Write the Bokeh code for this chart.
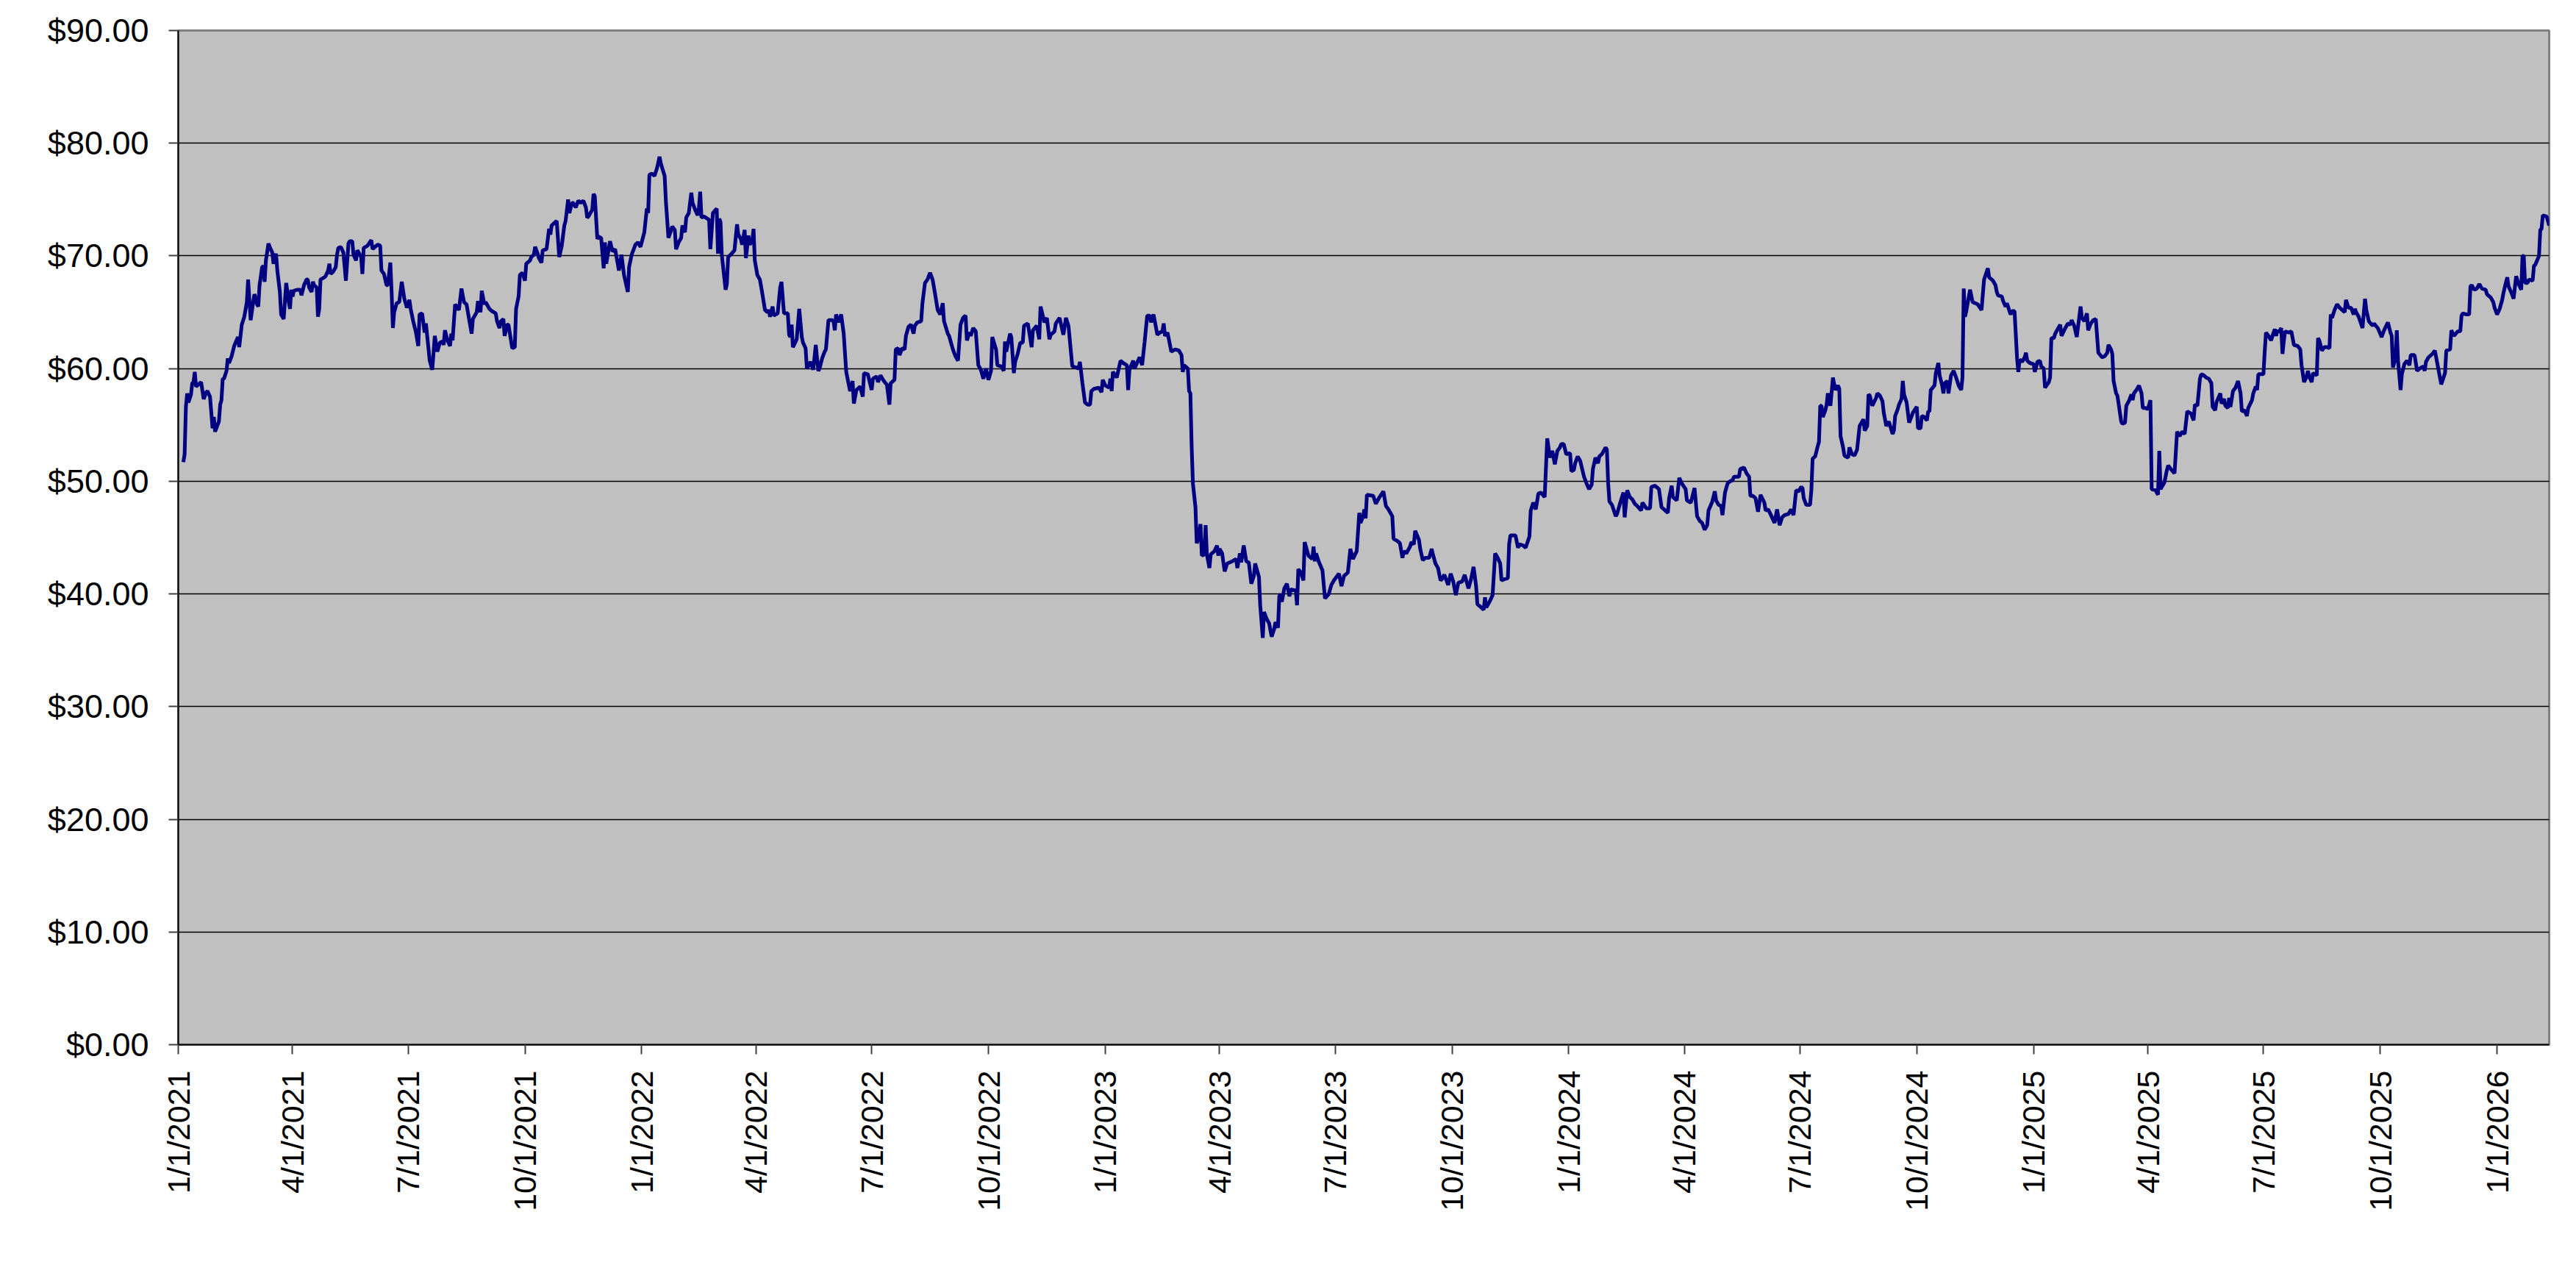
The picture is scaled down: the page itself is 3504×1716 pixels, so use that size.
import math
import pandas as pd
from bokeh.plotting import figure
from bokeh.models import ColumnDataSource, Range1d, FixedTicker, CustomJSTickFormatter, NumeralTickFormatter
from bokeh.embed import file_html
from bokeh.resources import INLINE

start_date = "2021-01-01"
end_date = "2026-02-11"

# days since 2021-01-01 and closing price
day_offset = [
    4, 5, 6, 7, 8, 10, 11, 12, 13, 14, 16, 18, 20, 22, 23, 25, 27, 28, 29, 32, 33, 34, 35, 36, 38, 39, 40, 42, 44, 47,
    48, 50, 52, 54, 55, 57, 59, 60, 61, 62, 63, 64, 65, 66, 67, 68, 69, 71, 72, 74, 75, 77, 78, 80, 81, 83, 85, 87, 88, 89,
    90, 91, 94, 96, 97, 99, 101, 102, 103, 105, 106, 107, 109, 110, 111, 112, 115, 116, 118, 119, 120, 122, 124, 125, 126, 128, 130, 132, 134, 135,
    137, 138, 140, 141, 144, 145, 146, 149, 152, 153, 157, 159, 160, 162, 164, 165, 167, 168, 169, 170, 172, 174, 176, 178, 180, 182, 183, 185, 187, 189,
    190, 192, 194, 195, 197, 198, 200, 202, 204, 206, 208, 209, 210, 212, 214, 215, 216, 218, 221, 223, 225, 227, 229, 231, 232, 235, 236, 238, 239, 241,
    242, 245, 247, 250, 251, 253, 254, 256, 257, 259, 260, 263, 265, 266, 268, 269, 271, 273, 274, 277, 278, 280, 281, 283, 284, 286, 287, 290, 292, 293,
    294, 297, 298, 300, 302, 303, 304, 305, 307, 308, 310, 311, 313, 315, 317, 319, 321, 322,
    323, 326, 327, 328, 330, 331, 333, 335, 336, 337, 340, 342, 344, 347, 349, 351, 354, 355, 357, 360, 362, 364, 367, 369, 370, 371, 373, 375, 377, 379,
    380, 383, 384, 386, 389, 391, 392, 394, 396, 397, 399, 400, 402, 404, 405, 407, 409, 410, 411, 412, 414, 418, 419, 421, 424, 425, 426, 427, 428, 431,
    432, 433, 435, 438, 440, 441, 443, 444, 446, 447, 449, 450, 452, 453, 454, 456, 458, 460, 462, 464, 465, 466, 468, 469, 472, 474, 475, 477, 480, 481,
    482, 483, 484, 487, 489, 491, 492, 494, 495, 498, 500, 502, 504, 505, 507, 509, 510, 512, 515, 516, 517, 518, 520, 522, 524, 526, 529, 531, 532, 534,
    537, 539, 540, 543, 546, 547, 550, 551, 553, 555, 557, 558, 560, 561, 564, 565, 567, 568, 570, 572, 573, 575, 577, 579, 580, 582, 585, 586, 588, 590,
    592, 594, 596, 598, 600, 602, 603, 606, 607, 610, 612, 614, 616, 618, 620, 621, 623, 624, 626, 628, 630, 632, 634, 636, 638, 640, 641,
    644, 645, 648, 650, 651, 652, 655, 656, 658, 659, 661, 663, 665, 666, 669, 672, 673, 676, 678, 679, 681, 682, 684, 686, 687, 690, 691, 694, 697, 699,
    701, 704, 707, 709, 710, 712, 714, 716, 718, 719, 721, 725, 727, 728, 730, 733, 734, 735, 736, 739, 742, 744, 747, 748, 749, 752, 753, 757, 759, 761,
    763, 765, 766, 768, 771, 773, 775, 776, 777, 779, 782, 785, 788, 790, 791, 792, 795, 796, 797, 798, 799, 801, 802, 803, 805, 806, 808, 809, 810, 812,
    813, 816, 818, 819, 820, 822, 824, 826, 830, 833, 834, 836, 837, 839, 841, 843, 845, 847, 848, 851, 852, 854, 855, 857, 859, 861, 863, 864, 866, 867,
    868, 869, 871, 873, 875, 876, 880, 881, 882, 884, 886, 887, 890, 893, 894, 895, 896, 898, 901, 903, 906, 908, 910, 914, 916, 918, 921, 923, 925, 928,
    930, 931, 933, 934, 935, 936, 941, 943, 946, 949, 951, 953, 956, 957, 960,
    962, 964, 965, 967, 970, 971, 973, 974, 977, 978, 980, 982, 985, 987, 988, 990, 992, 994, 995, 997, 1000, 1002, 1004, 1006, 1008, 1011, 1013, 1016, 1018, 1020,
    1022, 1023, 1025, 1028, 1029, 1030, 1033, 1035, 1037, 1039, 1041, 1042, 1044, 1047, 1048, 1049, 1051, 1053, 1055, 1056, 1059, 1061, 1064, 1065, 1067, 1069, 1071, 1073, 1076, 1078,
    1079, 1080, 1082, 1084, 1086, 1088, 1089, 1091, 1093, 1096, 1097, 1099, 1100, 1102, 1104, 1107, 1109, 1111, 1113, 1114, 1116, 1118, 1119, 1121, 1124, 1125, 1126, 1127, 1129, 1132,
    1133, 1135, 1138, 1139, 1141, 1143, 1145, 1147, 1149, 1152, 1153, 1156, 1159, 1160, 1163, 1166, 1168, 1170, 1173, 1174, 1176, 1177, 1180, 1182, 1184, 1187, 1188, 1191, 1192, 1194,
    1196, 1198, 1200, 1202, 1204, 1205, 1208, 1210, 1211, 1213, 1215, 1216, 1218, 1220, 1222, 1224, 1225, 1229, 1230, 1233, 1235, 1237, 1238, 1240, 1242, 1244, 1246, 1249, 1250, 1252,
    1255, 1257, 1259, 1261, 1263, 1265, 1268, 1270, 1272, 1274, 1276, 1278,
    1279, 1280, 1282, 1285, 1286, 1287, 1289, 1291, 1292, 1293, 1294, 1295, 1297, 1298, 1299, 1301, 1303, 1304, 1305, 1307, 1308, 1309, 1311, 1312, 1313, 1315, 1316, 1318, 1320, 1322,
    1324, 1326, 1327, 1328, 1330, 1331, 1332, 1334, 1337, 1338, 1340, 1342, 1343, 1345, 1347, 1350, 1351, 1352, 1354, 1355, 1357, 1358, 1359, 1361, 1363, 1365, 1366, 1369, 1370, 1372,
    1373, 1375, 1377, 1378, 1379, 1380, 1383, 1384, 1386, 1387, 1389, 1390, 1391, 1393, 1394, 1396, 1398, 1400, 1402, 1404, 1405, 1406, 1407, 1408, 1411, 1413, 1415, 1417, 1420, 1422,
    1425, 1426, 1429, 1431, 1432, 1433, 1436, 1437, 1439, 1440, 1442, 1443, 1444, 1446, 1448, 1449, 1450, 1452, 1454, 1455, 1456, 1458, 1461, 1462, 1464, 1466, 1467, 1469, 1470, 1473,
    1474, 1475, 1477, 1478, 1480, 1482, 1483, 1486, 1488, 1490, 1491, 1493, 1495, 1498, 1499, 1501, 1503, 1504, 1506, 1508, 1510, 1512, 1515, 1517, 1519, 1520, 1522, 1523, 1524, 1526,
    1527, 1530, 1531, 1533, 1534, 1536, 1538, 1539, 1540, 1542, 1544, 1546, 1547, 1549, 1551, 1553, 1554, 1557, 1559, 1560, 1561, 1564, 1566, 1567, 1569, 1572, 1574, 1576, 1578, 1580,
    1582, 1585, 1587, 1588, 1590, 1592, 1593,
    1595, 1597, 1599, 1601, 1602, 1604, 1605, 1608, 1609, 1611, 1612, 1614, 1615, 1616, 1618, 1620, 1622, 1624, 1625, 1627, 1629, 1630, 1633, 1634, 1636, 1637, 1638, 1642, 1643, 1644,
    1646, 1648, 1650, 1651, 1652, 1653, 1654, 1656, 1657, 1658, 1659, 1662, 1664, 1666, 1669, 1671, 1672, 1674, 1676, 1677, 1678, 1680, 1681, 1684, 1685, 1686, 1688, 1690, 1692, 1694,
    1695, 1696, 1698, 1700, 1702, 1706, 1707, 1709, 1711, 1713, 1714, 1715, 1717, 1720, 1722, 1723, 1725, 1728, 1729, 1732, 1734, 1735, 1737, 1740, 1742, 1743, 1744, 1746, 1747, 1748,
    1750, 1751, 1753, 1755, 1757, 1758, 1761, 1763, 1765, 1768, 1769, 1770, 1772, 1775, 1777, 1779, 1782, 1785, 1786, 1789, 1790, 1792, 1795, 1797, 1798, 1799, 1802, 1804, 1805, 1806,
    1808, 1810, 1812, 1814, 1817, 1818, 1821, 1823, 1824, 1826, 1828, 1830, 1831, 1832, 1834, 1835, 1837, 1839, 1841, 1843, 1845, 1846, 1847, 1848, 1850, 1851, 1854, 1855, 1856, 1859,
    1860, 1861, 1862, 1865, 1867,
]

price = [
    51.7, 52.4, 56.6, 57.8, 57.0, 57.7, 58.7, 58.8, 59.7, 58.4, 58.6, 58.8, 57.3, 57.9, 58.0, 57.5, 54.7, 55.7, 54.4, 55.3, 56.8, 57.2, 59.1, 59.1, 59.8, 60.9, 60.5, 61.1, 62.0, 62.8,
    61.9, 63.9, 64.6, 65.9, 67.9, 64.3, 65.9, 66.6, 66.2, 65.7, 65.5, 67.4, 68.2, 69.0, 69.1, 67.7, 69.6, 71.1, 70.8, 70.3, 69.3, 70.2, 68.7, 66.8, 64.8, 64.4, 67.6, 65.9, 65.3, 67.0,
    66.4, 66.9, 67.0, 67.0, 66.5, 67.4, 67.9, 67.9, 67.2, 66.8, 67.7, 67.4, 67.2, 64.6, 65.3, 67.9, 68.1, 68.2, 68.7, 69.3, 68.4, 68.6, 69.0, 70.1, 70.7, 70.8, 70.3, 67.8, 71.1, 71.3,
    71.3, 70.1, 69.6, 70.5, 69.9, 68.4, 70.7, 70.9, 71.4, 70.6, 71.0, 70.9, 68.7, 68.4, 67.4, 67.4, 69.4, 66.8, 63.6, 65.0, 65.8, 65.9, 67.7, 66.2, 65.4, 66.1, 65.3, 64.2, 63.3, 62.0,
    64.8, 64.9, 63.2, 64.0, 61.8, 60.7, 59.9, 62.9, 61.5, 62.3, 62.4, 62.1, 63.4, 62.5, 62.0, 63.1, 62.5, 65.7, 65.2, 67.1, 65.9, 65.7, 64.4, 63.1, 64.4, 65.0, 66.0, 65.0, 66.9, 65.7,
    65.9, 65.3, 65.1, 64.9, 64.2, 63.6, 64.2, 64.4, 62.9, 63.9, 63.9, 61.8, 61.9, 65.3, 66.4, 68.3, 68.5, 67.8, 69.3, 69.6, 69.9, 70.1, 70.8, 70.2, 69.8, 69.4, 70.5, 70.6, 72.4, 71.9,
    72.7, 73.0, 73.1, 69.9, 70.9, 71.8, 72.7, 73.1, 75.0, 73.8, 74.7, 74.7, 74.3, 74.9, 74.7, 74.9, 74.3, 73.4,
    73.5, 74.1, 75.5, 75.3, 71.5, 71.7, 71.6, 68.9, 71.2, 69.3, 71.3, 70.4, 70.6, 68.7, 70.1, 68.3, 66.8, 69.0, 70.1, 71.0, 71.2, 70.8, 72.1, 74.2, 73.8, 77.2, 77.3, 77.1, 77.8, 78.8,
    78.2, 77.1, 74.8, 71.6, 72.6, 72.3, 70.6, 71.2, 71.6, 72.7, 72.1, 73.4, 73.8, 75.6, 74.7, 74.1, 73.6, 74.3, 75.7, 73.4, 73.5, 73.2, 70.6, 73.8, 74.2, 70.2, 73.3, 73.0, 70.1, 67.0,
    67.5, 69.9, 70.1, 70.5, 72.8, 71.9, 71.5, 71.0, 72.3, 69.8, 71.8, 71.0, 71.3, 72.4, 69.6, 68.3, 67.9, 66.6, 65.2, 65.0, 65.2, 64.6, 65.5, 64.7, 64.9, 67.2, 67.7, 64.9, 64.9, 63.0,
    62.8, 63.9, 61.9, 62.6, 65.3, 62.8, 62.3, 61.8, 60.0, 60.6, 59.9, 62.1, 59.8, 60.0, 60.9, 61.5, 61.7, 64.3, 64.3, 64.2, 63.4, 64.8, 64.1, 64.8, 63.1, 59.7, 58.0, 58.9, 56.9, 58.1,
    58.4, 57.5, 59.6, 59.5, 58.1, 59.1, 59.3, 58.8, 59.4, 59.0, 58.7, 58.6, 56.8, 58.7, 59.0, 61.7, 61.8, 61.2, 61.8, 61.7, 62.9, 63.7, 63.9, 63.1, 63.8, 64.1, 64.2, 65.8, 67.6, 67.9,
    68.5, 67.9, 66.6, 65.2, 64.8, 65.8, 64.2, 63.1, 62.9, 61.7, 61.1, 60.7, 63.9, 64.5, 64.7, 62.5, 63.2, 62.9, 63.6, 63.3, 60.3, 59.9, 59.1, 60.0, 59.0, 59.8, 62.8,
    61.7, 60.3, 60.2, 59.8, 62.4, 61.5, 63.1, 62.8, 59.6, 60.6, 61.3, 62.3, 62.3, 63.8, 64.0, 61.9, 63.4, 63.8, 62.6, 65.5, 64.6, 64.1, 64.5, 62.6, 63.0, 63.3, 64.0, 64.5, 63.0, 64.5,
    63.8, 60.2, 60.1, 60.0, 60.6, 58.7, 57.0, 56.8, 56.8, 58.0, 58.2, 58.3, 57.9, 59.0, 58.5, 58.3, 59.1, 58.0, 59.7, 59.2, 60.7, 60.5, 60.3, 58.1, 59.9, 60.7, 60.0, 61.0, 60.3, 62.4,
    64.7, 64.7, 64.1, 64.8, 63.0, 63.2, 63.3, 64.0, 62.9, 63.2, 61.5, 61.7, 61.6, 61.2, 59.7, 60.3, 60.0, 58.0, 57.8, 53.1, 49.8, 47.7, 44.5, 44.8, 46.2, 43.4, 43.5, 46.1, 43.5, 42.3,
    43.5, 43.8, 44.3, 43.4, 44.0, 43.6, 42.0, 42.7, 42.9, 43.1, 42.3, 43.6, 42.8, 44.3, 42.9, 42.8, 40.9, 41.6, 42.7, 41.5, 39.0, 36.1, 38.4, 37.8, 37.4, 36.2, 36.9, 37.5, 37.0, 39.8,
    40.0, 39.3, 40.5, 40.9, 39.8, 40.4, 40.3, 39.0, 42.2, 41.9, 41.2, 44.6, 43.4, 43.1, 44.2, 42.9, 43.6, 42.9, 42.1, 39.6, 40.0, 40.8, 41.2, 41.8, 40.7, 41.6, 41.9, 44.0, 43.1, 43.8,
    47.2, 46.3, 46.9, 47.5, 46.7, 48.8, 48.7, 48.0, 48.6, 49.1, 47.8, 47.5, 46.9, 44.9, 44.7,
    44.5, 43.2, 43.8, 43.6, 44.2, 44.6, 44.4, 45.6, 44.8, 44.0, 43.0, 43.2, 43.2, 44.0, 43.5, 42.7, 42.3, 41.2, 41.3, 41.7, 40.8, 41.8, 41.1, 39.9, 41.0, 41.1, 41.7, 40.5, 41.3, 42.4,
    40.7, 39.1, 38.9, 38.6, 39.7, 38.8, 39.4, 39.9, 43.6, 43.2, 42.7, 41.2, 41.3, 41.4, 44.4, 45.2, 45.2, 45.2, 44.1, 44.4, 44.3, 44.1, 45.1, 47.4, 48.1, 47.5, 48.9, 49.0, 48.6, 53.8,
    53.0, 52.1, 52.7, 51.5, 52.7, 53.0, 53.3, 53.3, 52.4, 52.5, 50.9, 51.0, 51.6, 52.2, 51.8, 50.4, 49.8, 49.3, 49.7, 51.1, 52.1, 51.6, 52.2, 52.4, 53.0, 52.8, 49.8, 48.2, 47.9, 46.9,
    47.1, 47.9, 49.0, 46.8, 49.2, 48.6, 48.4, 48.0, 47.8, 47.4, 48.1, 47.6, 47.6, 49.5, 49.6, 49.3, 47.7, 47.5, 47.2, 48.5, 49.6, 48.6, 48.3, 50.3, 49.8, 49.3, 48.3, 48.1, 48.5, 49.4,
    46.9, 46.5, 46.3, 45.7, 46.1, 47.4, 48.2, 49.1, 48.3, 47.9, 47.8, 47.0, 49.0, 49.8, 50.0, 50.1, 50.4, 50.4, 51.1, 51.2, 50.7, 50.4, 48.7, 48.7, 48.5, 47.3, 48.8, 48.1, 47.4, 47.5,
    46.8, 46.3, 47.5, 46.1, 46.8, 47.0, 47.1, 47.5, 47.0, 49.2, 49.1, 49.5,
    49.4, 48.5, 47.9, 47.9, 49.2, 52.0, 52.2, 53.1, 53.5, 56.7, 56.7, 55.7, 56.3, 56.8, 57.8, 56.7, 59.2, 58.6, 58.1, 58.5, 58.2, 54.0, 53.0, 52.3, 52.2, 52.1, 53.0, 52.4, 52.3, 52.8,
    54.9, 55.3, 55.5, 54.5, 54.9, 57.7, 57.6, 56.7, 57.4, 57.8, 57.6, 57.1, 56.1, 54.9, 55.3, 54.2, 54.5, 55.8, 56.4, 56.8, 57.3, 58.9, 57.7, 57.0, 55.2, 55.8, 56.1, 56.6, 54.7, 54.7,
    55.8, 55.7, 55.4, 56.2, 56.2, 58.1, 58.5, 59.6, 60.5, 59.4, 58.5, 57.8, 58.7, 58.9, 57.8, 59.4, 59.8, 59.2, 58.5, 58.1, 59.2, 67.1, 64.6, 65.1, 67.0, 65.9, 65.8, 65.7, 65.2, 67.9,
    68.9, 68.1, 67.8, 67.4, 66.8, 66.5, 66.4, 66.0, 65.5, 65.8, 65.1, 64.8, 65.1, 65.1, 60.9, 59.7, 60.8, 60.6, 61.0, 61.4, 60.7, 60.5, 60.4, 59.7, 60.6, 60.7, 60.2, 60.0, 58.3, 58.8,
    59.2, 62.7, 62.7, 63.1, 63.5, 63.9, 62.9, 63.6, 64.0, 63.9, 64.3, 63.8, 62.8, 65.5, 64.5, 64.2, 64.9, 63.4, 64.0, 64.3, 64.4, 61.4, 61.0, 61.1, 61.4, 62.1, 61.7, 61.3, 58.9, 57.8,
    57.6, 55.3, 55.1, 55.2, 56.7, 57.1, 57.7, 57.2, 57.8, 58.1, 58.5, 57.8, 56.5, 56.5, 56.4, 57.2, 49.3, 49.2, 48.8, 52.7, 49.3, 49.9, 51.0, 51.4, 51.1, 50.7, 54.4, 54.0, 54.4, 54.2,
    56.2, 56.0, 55.4, 56.8, 56.7, 59.1, 59.5,
    59.4, 59.2, 59.1, 58.7, 56.6, 56.3, 57.0, 57.8, 56.9, 57.3, 56.7, 56.5, 57.4, 56.6, 58.0, 58.3, 58.9, 57.8, 56.2, 56.3, 55.8, 56.5, 57.2, 57.8, 58.4, 58.1, 59.5, 59.5, 61.5, 63.2,
    62.9, 62.5, 63.2, 63.5, 62.9, 63.4, 63.2, 63.6, 61.3, 62.4, 63.3, 63.2, 63.3, 62.1, 62.0, 61.7, 60.3, 58.8, 59.3, 59.8, 59.3, 58.8, 59.6, 59.4, 62.7, 62.5, 61.6, 61.9, 61.9, 61.8,
    64.8, 64.5, 65.2, 65.7, 65.4, 65.0, 66.1, 65.4, 65.4, 64.8, 65.3, 65.0, 64.6, 63.6, 66.2, 65.2, 64.2, 63.8, 64.0, 63.6, 63.1, 62.8, 63.4, 64.1, 63.2, 62.9, 60.1, 60.9, 63.4, 60.7,
    58.1, 59.5, 60.4, 60.7, 60.3, 61.2, 61.2, 59.8, 60.0, 60.2, 59.8, 60.6, 61.0, 61.3, 61.6, 60.4, 58.6, 59.6, 61.6, 61.7, 63.4, 62.9, 63.3, 63.3, 64.7, 64.9, 64.8, 64.8, 67.3, 67.4,
    67.0, 67.1, 67.5, 67.1, 67.0, 66.6, 66.3, 65.9, 65.4, 64.8, 65.3, 66.1, 66.7, 67.2, 68.1, 67.3, 66.8, 66.2, 68.2, 67.5, 67.0, 70.0, 70.0, 67.6, 67.6, 67.9, 67.8, 69.1, 69.2, 70.0,
    72.3, 72.4, 73.6, 73.5, 72.7,
]

tick_dates = ["2021-01-01", "2021-04-01", "2021-07-01", "2021-10-01",
              "2022-01-01", "2022-04-01", "2022-07-01", "2022-10-01",
              "2023-01-01", "2023-04-01", "2023-07-01", "2023-10-01",
              "2024-01-01", "2024-04-01", "2024-07-01", "2024-10-01",
              "2025-01-01", "2025-04-01", "2025-07-01", "2025-10-01",
              "2026-01-01"]
tick_labels = ["1/1/2021", "4/1/2021", "7/1/2021", "10/1/2021",
               "1/1/2022", "4/1/2022", "7/1/2022", "10/1/2022",
               "1/1/2023", "4/1/2023", "7/1/2023", "10/1/2023",
               "1/1/2024", "4/1/2024", "7/1/2024", "10/1/2024",
               "1/1/2025", "4/1/2025", "7/1/2025", "10/1/2025",
               "1/1/2026"]
y_ticks = [0, 10, 20, 30, 40, 50, 60, 70, 80, 90]

n = min(len(day_offset), len(price))
dates = pd.Timestamp(start_date) + pd.to_timedelta(day_offset[:n], unit="D")
src = ColumnDataSource(dict(date=list(dates), price=price[:n]))

tick_ms = [pd.Timestamp(d).value // 10**6 for d in tick_dates]

p = figure(width=3488, height=1700, x_axis_type="datetime",
           output_backend="svg", toolbar_location=None,
           x_range=Range1d(pd.Timestamp(start_date), pd.Timestamp(end_date)),
           y_range=Range1d(0, 90),
           min_border_left=242, min_border_right=21,
           min_border_top=41, min_border_bottom=280)

p.background_fill_color = "#C0C0C0"
p.border_fill_color = "white"
p.outline_line_color = "#808080"
p.outline_line_width = 3

p.line("date", "price", source=src, line_color="#000080", line_width=5)

p.xgrid.visible = False
p.ygrid.grid_line_color = "black"
p.ygrid.grid_line_width = 1.5
p.yaxis.ticker = FixedTicker(ticks=y_ticks)
p.yaxis.formatter = NumeralTickFormatter(format="$0.00")

p.xaxis.ticker = FixedTicker(ticks=tick_ms)
p.xaxis.formatter = CustomJSTickFormatter(args=dict(vals=tick_ms, labels=tick_labels), code="""
    for (let i = 0; i < vals.length; i++) {
        if (Math.abs(vals[i] - tick) < 1) { return labels[i]; }
    }
    return '';
""")
p.xaxis.major_label_orientation = math.pi / 2

for ax in (p.xaxis, p.yaxis):
    ax.axis_line_color = "black"
    ax.axis_line_width = 2
    ax.major_tick_in = 0
    ax.major_tick_out = 13
    ax.major_tick_line_color = "#404040"
    ax.major_tick_line_width = 2
    ax.minor_tick_line_color = None
    ax.major_label_text_font = "Liberation Sans"
    ax.major_label_text_color = "black"

p.yaxis.major_label_text_font_size = "45px"
p.yaxis.major_label_standoff = 27
p.xaxis.major_label_text_font_size = "43px"
p.xaxis.major_label_standoff = 22

open("out.html", "w").write(file_html(p, INLINE))
